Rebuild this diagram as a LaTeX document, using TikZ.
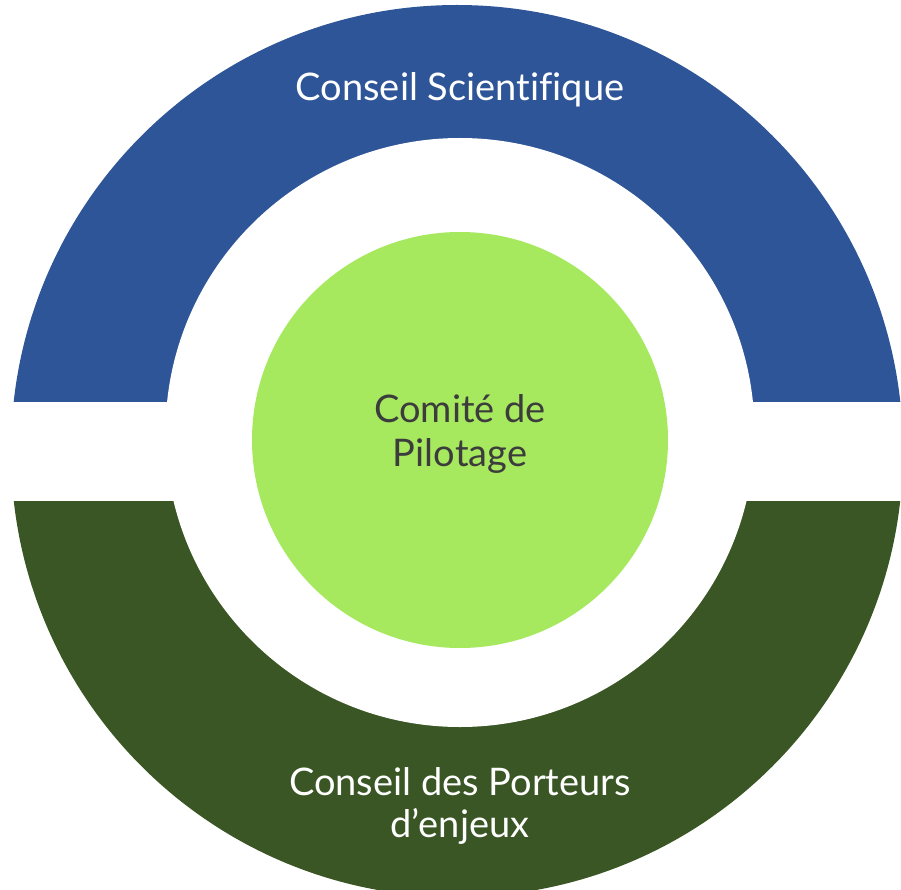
\documentclass[tikz,border=0pt]{standalone}
\usepackage{fontspec}
\setmainfont{Lato}[Ligatures=NoCommon]
\definecolor{csblue}{RGB}{46,85,151}
\definecolor{cpgreen}{RGB}{58,86,36}
\definecolor{copil}{RGB}{166,232,94}
\definecolor{copiltext}{RGB}{60,60,60}
\begin{document}
\begin{tikzpicture}[x=1pt,y=-1pt,
  outerlabel/.style={text=white,font=\fontsize{38}{42}\selectfont,align=center,inner sep=0pt},
  innerlabel/.style={text=copiltext,font=\fontsize{38}{44}\selectfont,align=center,inner sep=0pt}]
\useasboundingbox (0,0) rectangle (901,890);
\begin{scope}
  \clip (0,0) rectangle (901,401.7);
  \fill[csblue] (457,451) circle[radius=446];
\end{scope}
\begin{scope}
  \clip (0,501) rectangle (901,890);
  \fill[cpgreen] (457,451) circle[radius=446];
\end{scope}
\fill[white] (460,432.5) circle[radius=294.5];
\fill[copil] (460,440) circle[radius=208];
\node[outerlabel] (cs) at (460,90) {Conseil Scientifique};
\node[outerlabel] (cp) at (460,806) {Conseil des Porteurs\\d’enjeux};
\node[innerlabel] (copil) at (460,434) {Comité de\\Pilotage};
\end{tikzpicture}
\end{document}
